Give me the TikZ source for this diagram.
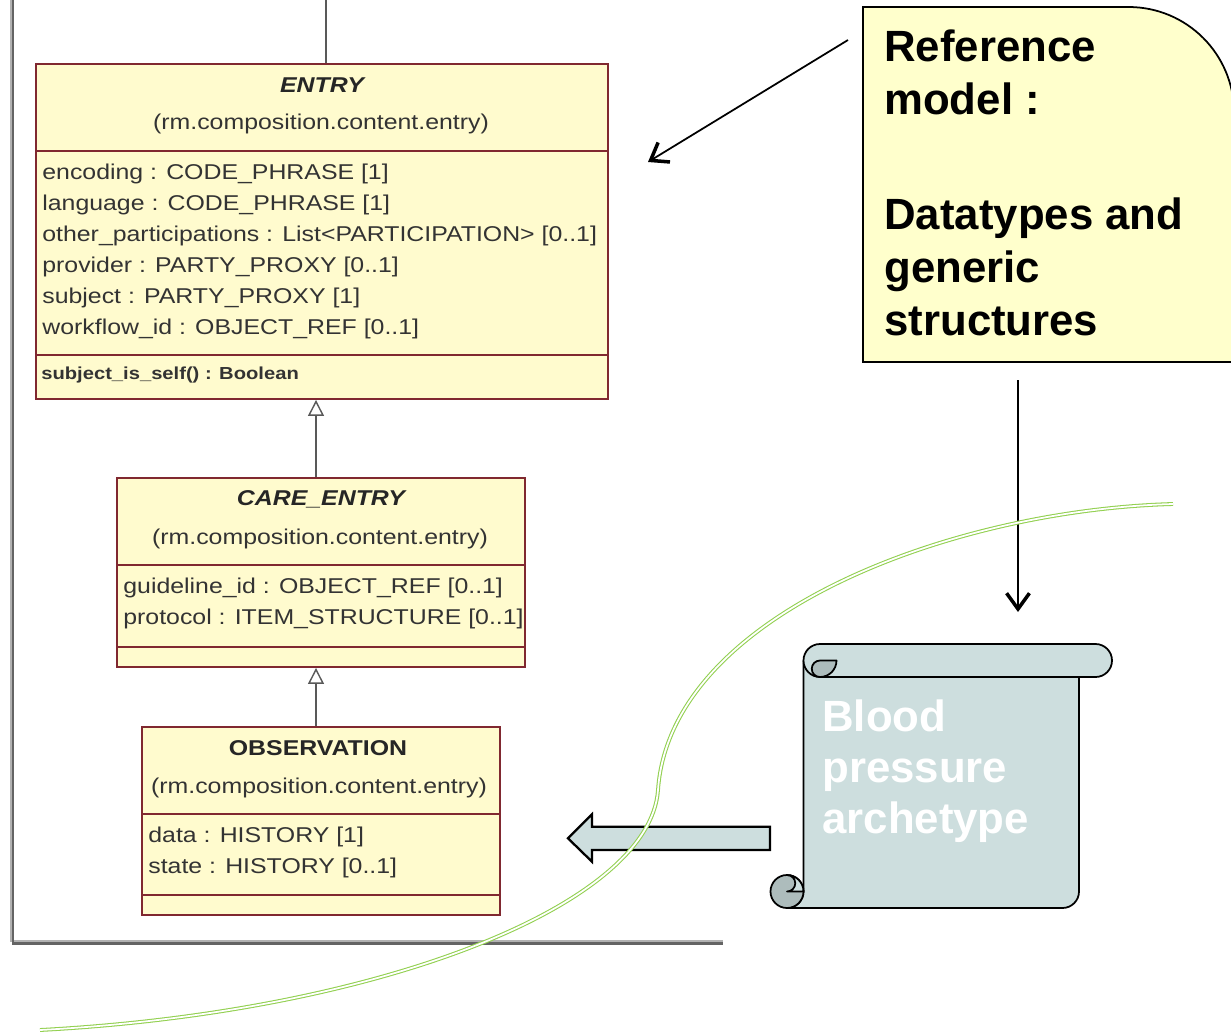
\documentclass[tikz,border=0pt]{standalone}
\usepackage{fontspec}
\setmainfont{Liberation Sans}
\newfontfamily\umlfont[FakeStretch=1.16]{Liberation Sans}
\usetikzlibrary{arrows.meta,positioning,fit}

\definecolor{umlfill}{RGB}{255,251,206}
\definecolor{umlborder}{RGB}{128,40,48}
\definecolor{notefill}{RGB}{255,255,204}
\definecolor{scrollfill}{RGB}{205,222,222}
\definecolor{curlfill}{RGB}{173,188,188}
\definecolor{linegreen}{RGB}{146,208,80}
\definecolor{framegray}{RGB}{100,100,100}

\tikzset{
  umlbox/.style={draw=umlborder, fill=umlfill, line width=1.1pt, inner sep=0pt},
  umldiv/.style={draw=umlborder, line width=1.1pt},
  umlname/.style={font=\umlfont\fontsize{12.2}{14}\selectfont\bfseries, text=black!85, inner sep=0pt},
  umlpkg/.style={font=\umlfont\fontsize{12.2}{14}\selectfont, text=black!80, inner sep=0pt},
  umlattr/.style={font=\umlfont\fontsize{12.2}{17.6}\selectfont, text=black!80, align=left, inner sep=0pt, anchor=north west},
  umlop/.style={font=\umlfont\fontsize{9.9}{12}\selectfont\bfseries, text=black!80, inner sep=0pt, anchor=west},
  genline/.style={draw=black!65, line width=0.8pt, -{Triangle[open, length=9pt, width=9pt, fill=white]}},
  bigtext/.style={font=\fontsize{24.9}{30.2}\selectfont\bfseries, align=left, inner sep=0pt, anchor=north west},
  pointer/.style={line width=1pt, -{Straight Barb[length=9pt, width=13pt, line width=2pt]}},
  scrollshape/.style={fill=scrollfill, draw=black, line width=1pt, line join=round},
  curlshape/.style={fill=curlfill, draw=black, line width=1pt, line join=round},
  greenline/.style={draw=linegreen, double=white, double distance=1pt, line width=0.6pt},
}

\begin{document}
\begin{tikzpicture}[x=0.02cm, y=-0.02cm]
\useasboundingbox (0,0) rectangle (1231,1032);

% window frame
\draw[black!30, line width=1pt] (11,0) -- (11,941) -- (723,941);
\draw[framegray, line width=1.2pt] (13,0) -- (13,943.5) -- (723,943.5);

% ENTRY
\node[umlbox, fit={(36,64) (608,399)}] (entry) {};
\draw[umldiv] (36,151) -- (608,151);
\draw[umldiv] (36,355) -- (608,355);
\node[umlname] (entryname) at (322,85) {\itshape ENTRY};
\node[umlpkg] (entrypkg) at (321,124) {(rm.composition.content.entry)};
\node[umlattr] (entryattr) at (42,164) {encoding : CODE\_PHRASE [1]\\
  language : CODE\_PHRASE [1]\\
  other\_participations : List<PARTICIPATION> [0..1]\\
  provider : PARTY\_PROXY [0..1]\\
  subject : PARTY\_PROXY [1]\\
  workflow\_id : OBJECT\_REF [0..1]};
\node[umlop] (entryop) at (41,375) {subject\_is\_self() : Boolean};

% CARE_ENTRY
\node[umlbox, fit={(117,478) (525,667)}] (care) {};
\draw[umldiv] (117,565) -- (525,565);
\draw[umldiv] (117,647) -- (525,647);
\node[umlname] (carename) at (321,499) {\itshape CARE\_ENTRY};
\node[umlpkg] (carepkg) at (320,539) {(rm.composition.content.entry)};
\node[umlattr] (careattr) at (123,578) {guideline\_id : OBJECT\_REF [0..1]\\
  protocol : ITEM\_STRUCTURE [0..1]};

% OBSERVATION
\node[umlbox, fit={(142,727) (500,915)}] (obs) {};
\draw[umldiv] (142,814) -- (500,814);
\draw[umldiv] (142,895) -- (500,895);
\node[umlname] (obsname) at (318,748) {OBSERVATION};
\node[umlpkg] (obspkg) at (319,788) {(rm.composition.content.entry)};
\node[umlattr] (obsattr) at (148,827) {data : HISTORY [1]\\
  state : HISTORY [0..1]};

% inheritance
\coordinate (gen) at (316,0);
\coordinate (uptop) at (326,0);
\draw[black!65, line width=0.8pt] (entry.north -| uptop) -- (uptop);
\draw[genline] (care.north -| gen) -- (entry.south -| gen);
\draw[genline] (obs.north -| gen) -- (care.south -| gen);

% reference model note
\filldraw[fill=notefill, draw=black, line width=1pt]
  (863,7) [rounded corners=60] -- (1234,7) [sharp corners] -- (1234,362) -- (863,362) -- cycle;
\node[bigtext] (refnote) at (884,29) {Reference\\model :\\[35.5pt]Datatypes and\\generic\\structures};

\coordinate (notetail) at (848,40);
\coordinate (entryhead) at (648,162);
\draw[pointer] (notetail) -- (entryhead);
\coordinate (notedown) at (1018,380);
\coordinate (scrollhead) at (1018,612);
\draw[pointer] (notedown) -- (scrollhead);

% archetype scroll
\filldraw[scrollshape] (803.5,661) -- (803.5,891.5) arc[start angle=0, end angle=90, radius=16.5]
  -- (1062.5,908) arc[start angle=90, end angle=0, radius=16.5] -- (1079,670) -- cycle;
\filldraw[scrollshape] (820,644) -- (1095.5,644) arc[start angle=-90, end angle=90, radius=16.5]
  -- (820,677) arc[start angle=90, end angle=270, radius=16.5] -- cycle;
\filldraw[curlshape] (820,660.5) -- (836.5,660.5) arc[start angle=0, end angle=90, radius=16.5]
  arc[start angle=90, end angle=270, radius=8.25] -- cycle;
\filldraw[curlshape] (787,891.5) circle[radius=16.5];
\filldraw[scrollshape] (787,875) arc[start angle=-90, end angle=90, radius=8.25]
  -- (803.5,891.5) arc[start angle=0, end angle=-90, radius=16.5] -- cycle;
\node[bigtext, text=white, font=\fontsize{24.9}{29.2}\selectfont\bfseries] (bpa) at (822,699) {Blood\\pressure\\archetype};

% block arrow towards OBSERVATION
\filldraw[scrollshape, line width=1.3pt, line join=miter]
  (770,826.7) -- (592,826.7) -- (592,814.3) -- (568,838.3) -- (592,861.7) -- (592,850) -- (770,850) -- cycle;

% green divider
\draw[greenline] (1173,504) .. controls (950,510) and (670,615) .. (658,790)
  .. controls (650,905) and (380,1012) .. (40,1030);

\end{tikzpicture}
\end{document}
